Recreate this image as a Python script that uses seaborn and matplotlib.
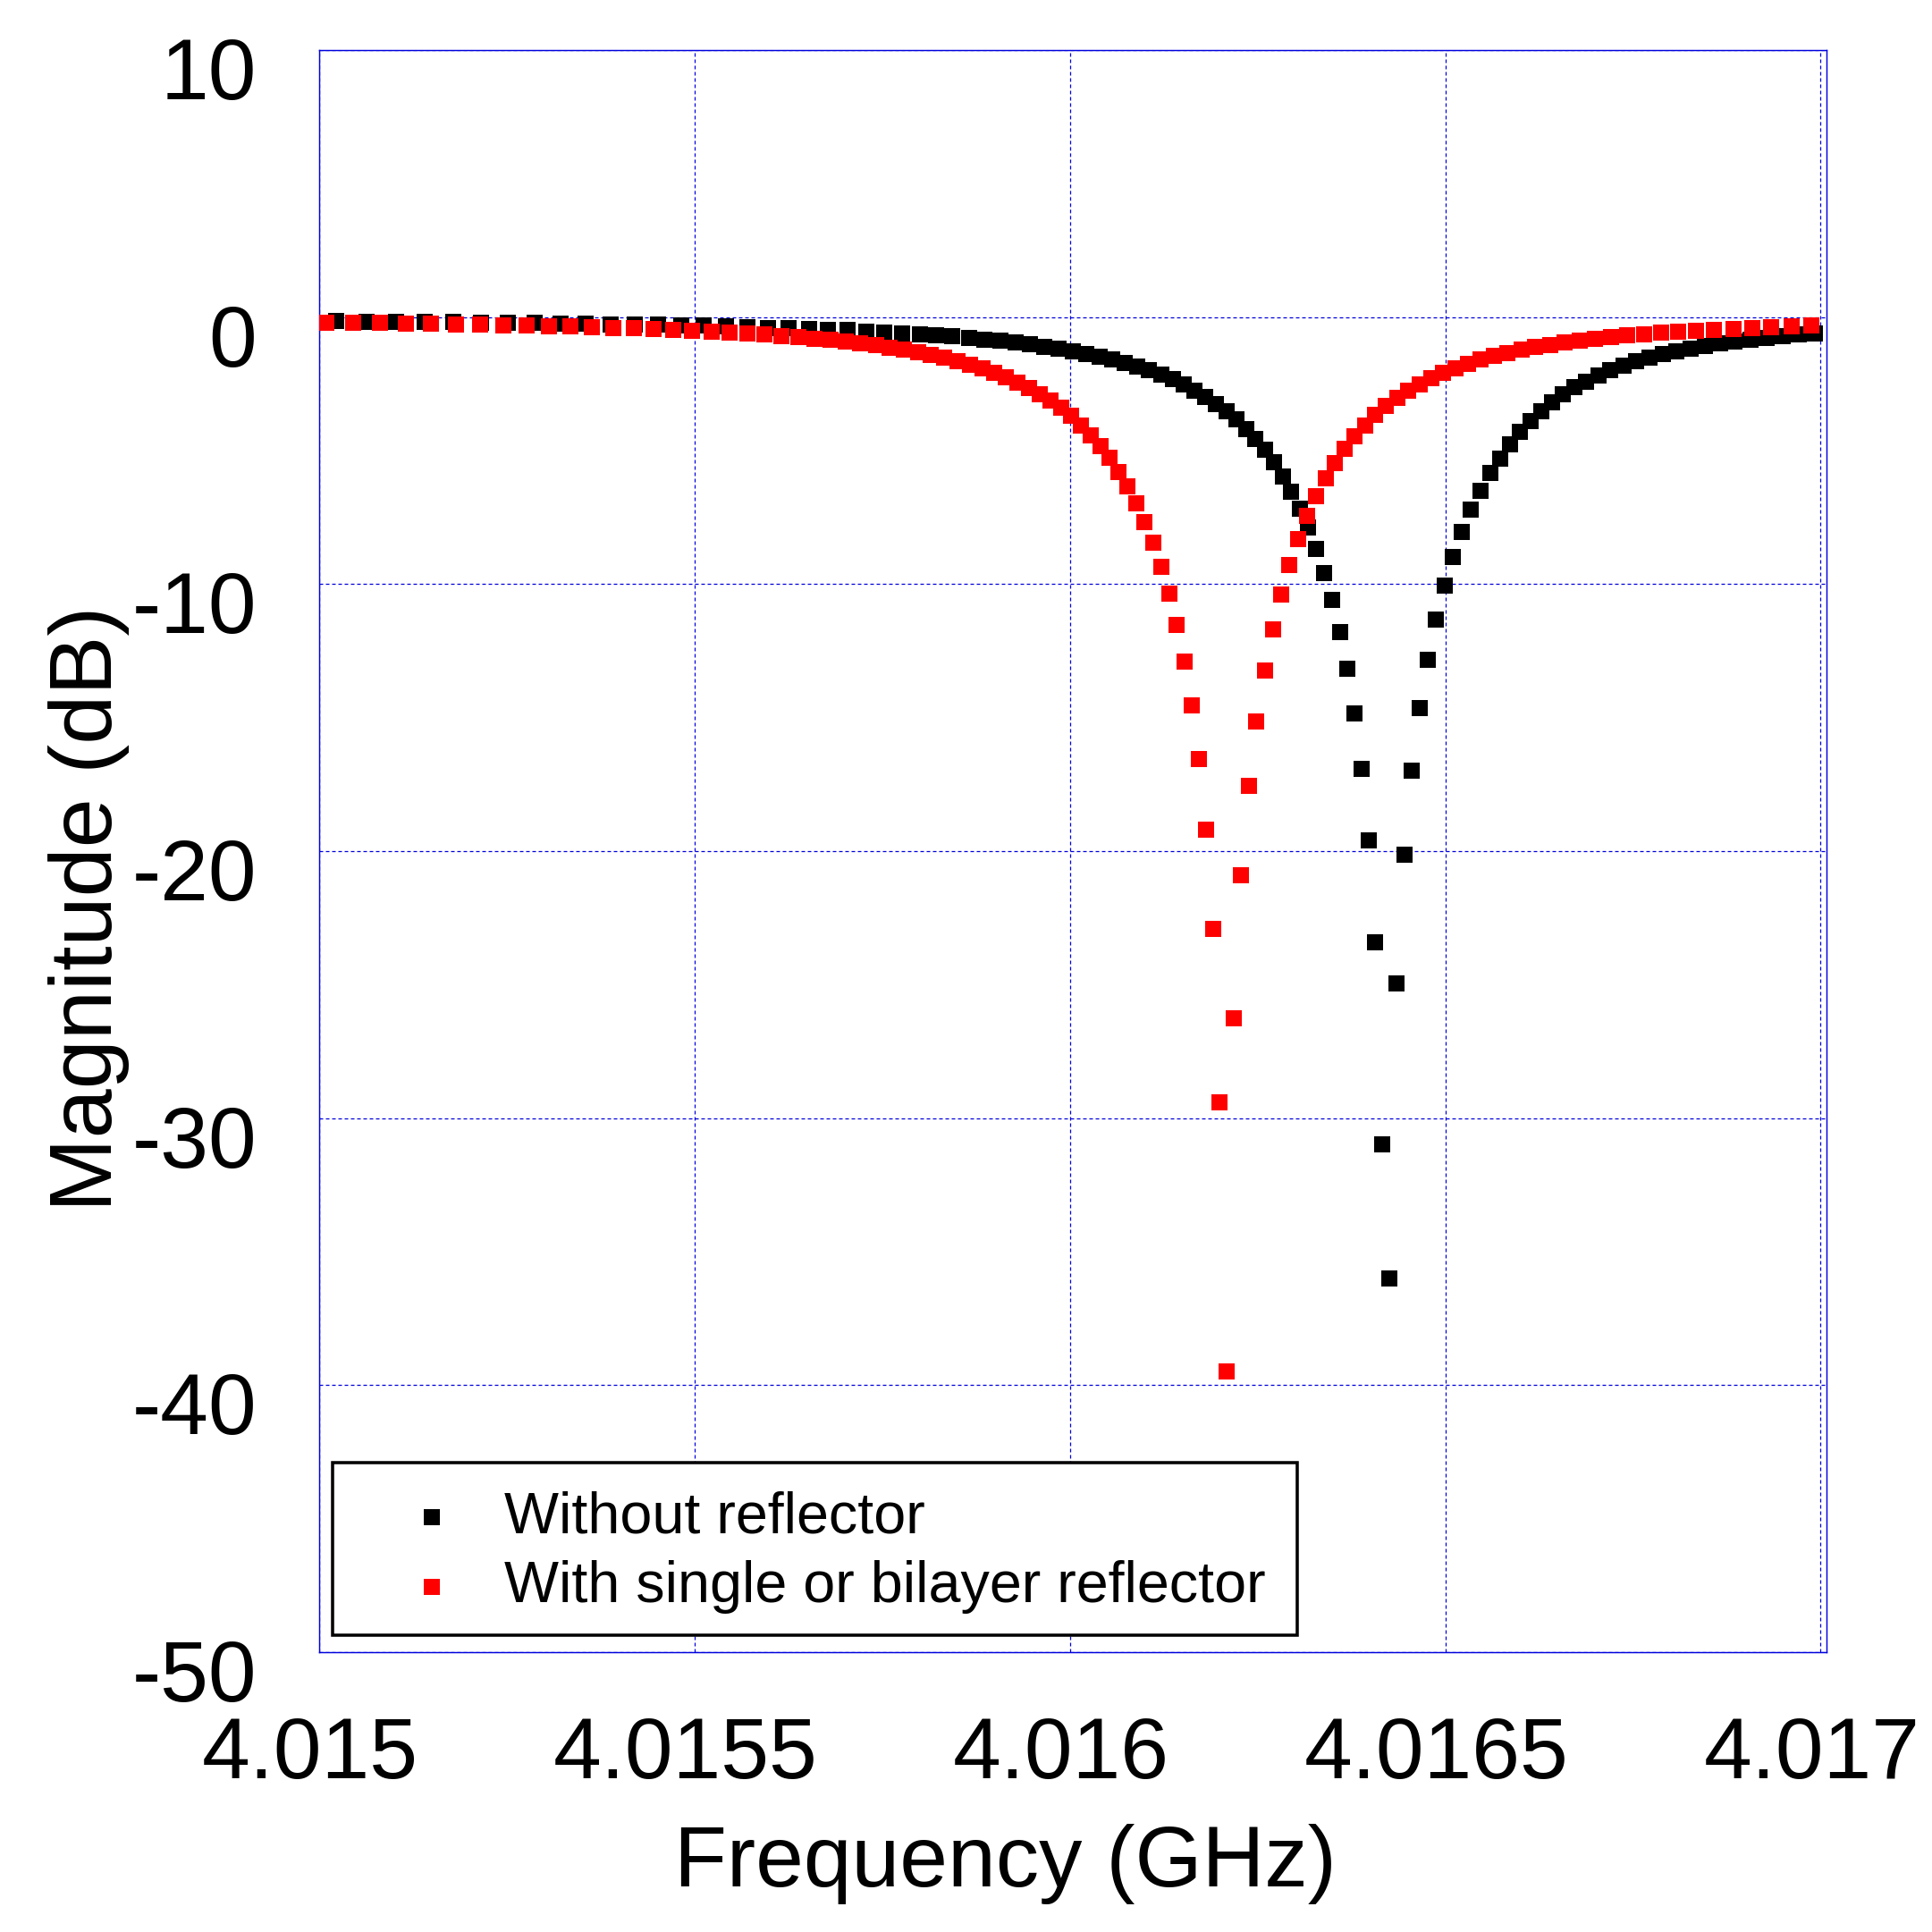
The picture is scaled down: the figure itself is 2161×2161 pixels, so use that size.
import numpy as np
import matplotlib
matplotlib.use("Agg")
import matplotlib.pyplot as plt
from matplotlib.patches import Rectangle
from matplotlib.transforms import ScaledTranslation
import seaborn as sns

# frequency (GHz) and magnitude (dB)
black_freq = [4.0150228, 4.0150633, 4.0151026, 4.0151409, 4.0151791, 4.0152157, 4.0152513, 4.0152869, 4.0153214, 4.0153549,
              4.0153883, 4.0154202, 4.0154515, 4.0154823, 4.0155121, 4.0155418, 4.0155700, 4.0155976, 4.0156252, 4.0156524,
              4.0156772, 4.0157033, 4.0157283, 4.0157522, 4.0157761, 4.0158000, 4.0158223, 4.0158437, 4.0158663, 4.0158865,
              4.0159079, 4.0159281, 4.0159472, 4.0159662, 4.0159853, 4.0160043, 4.0160221, 4.0160400, 4.0160567, 4.0160733,
              4.0160900, 4.0161054, 4.0161221, 4.0161376, 4.0161518, 4.0161661, 4.0161804, 4.0161947, 4.0162085, 4.0162223,
              4.0162345, 4.0162472, 4.0162604, 4.0162721, 4.0162844, 4.0162950, 4.0163065, 4.0163172, 4.0163279, 4.0163386,
              4.0163493, 4.0163600, 4.0163695, 4.0163791, 4.0163886, 4.0163981, 4.0164064, 4.0164159, 4.0164255, 4.0164350,
              4.0164457, 4.0164552, 4.0164659, 4.0164766, 4.0164873, 4.0164992, 4.0165096, 4.0165218, 4.0165340, 4.0165473,
              4.0165600, 4.0165728, 4.0165861, 4.0165993, 4.0166135, 4.0166277, 4.0166420, 4.0166563, 4.0166718, 4.0166872,
              4.0167039, 4.0167193, 4.0167372, 4.0167538, 4.0167717, 4.0167895, 4.0168074, 4.0168264, 4.0168455, 4.0168657,
              4.0168856, 4.0169061, 4.0169276, 4.0169490, 4.0169704, 4.0169930]
black_db = [-0.15, -0.19, -0.19, -0.19, -0.19, -0.22, -0.22, -0.22, -0.25, -0.25,
            -0.29, -0.29, -0.29, -0.32, -0.32, -0.35, -0.39, -0.42, -0.42, -0.45,
            -0.49, -0.49, -0.55, -0.59, -0.62, -0.65, -0.69, -0.72, -0.79, -0.86,
            -0.89, -0.96, -1.02, -1.12, -1.19, -1.29, -1.39, -1.49, -1.59, -1.73,
            -1.86, -1.99, -2.16, -2.33, -2.53, -2.76, -3.00, -3.27, -3.53, -3.83,
            -4.20, -4.57, -4.97, -5.44, -5.98, -6.55, -7.19, -7.89, -8.68, -9.59,
            -10.60, -11.79, -13.18, -14.84, -16.91, -19.59, -23.43, -30.98, -36.01, -24.97,
            -20.13, -16.97, -14.65, -12.84, -11.34, -10.06, -8.98, -8.05, -7.22, -6.49,
            -5.85, -5.29, -4.78, -4.31, -3.90, -3.53, -3.20, -2.90, -2.63, -2.43,
            -2.19, -1.99, -1.83, -1.66, -1.52, -1.39, -1.29, -1.19, -1.09, -0.99,
            -0.92, -0.86, -0.79, -0.72, -0.65, -0.62]

red_freq = [4.0150096, 4.0150457, 4.0150814, 4.0151159, 4.0151493, 4.0151823, 4.0152146, 4.0152455, 4.0152763, 4.0153060,
            4.0153347, 4.0153634, 4.0153916, 4.0154192, 4.0154452, 4.0154717, 4.0154967, 4.0155227, 4.0155466, 4.0155700,
            4.0155929, 4.0156152, 4.0156378, 4.0156593, 4.0156807, 4.0157009, 4.0157211, 4.0157414, 4.0157604, 4.0157794,
            4.0157985, 4.0158151, 4.0158330, 4.0158508, 4.0158675, 4.0158841, 4.0158996, 4.0159151, 4.0159305, 4.0159460,
            4.0159603, 4.0159745, 4.0159888, 4.0160019, 4.0160150, 4.0160281, 4.0160412, 4.0160531, 4.0160650, 4.0160769,
            4.0160888, 4.0160995, 4.0161114, 4.0161221, 4.0161328, 4.0161423, 4.0161530, 4.0161625, 4.0161720, 4.0161816,
            4.0161911, 4.0161994, 4.0162089, 4.0162184, 4.0162280, 4.0162387, 4.0162482, 4.0162601, 4.0162708, 4.0162815,
            4.0162922, 4.0163041, 4.0163160, 4.0163279, 4.0163412, 4.0163529, 4.0163662, 4.0163794, 4.0163938, 4.0164070,
            4.0164208, 4.0164357, 4.0164506, 4.0164660, 4.0164814, 4.0164968, 4.0165139, 4.0165303, 4.0165473, 4.0165648,
            4.0165829, 4.0166014, 4.0166194, 4.0166396, 4.0166587, 4.0166789, 4.0166991, 4.0167205, 4.0167419, 4.0167646,
            4.0167872, 4.0168098, 4.0168336, 4.0168574, 4.0168835, 4.0169085, 4.0169335, 4.0169609, 4.0169882]
red_db = [-0.22, -0.22, -0.22, -0.25, -0.25, -0.29, -0.29, -0.32, -0.32, -0.35,
          -0.35, -0.39, -0.42, -0.42, -0.45, -0.49, -0.52, -0.55, -0.59, -0.62,
          -0.65, -0.72, -0.75, -0.82, -0.86, -0.92, -0.99, -1.06, -1.16, -1.22,
          -1.32, -1.42, -1.52, -1.66, -1.79, -1.93, -2.09, -2.26, -2.46, -2.66,
          -2.90, -3.13, -3.40, -3.70, -4.07, -4.44, -4.84, -5.27, -5.81, -6.35,
          -6.98, -7.68, -8.45, -9.36, -10.36, -11.54, -12.90, -14.54, -16.55, -19.19,
          -22.92, -29.42, -39.49, -26.25, -20.90, -17.55, -15.14, -13.24, -11.71, -10.38,
          -9.30, -8.32, -7.44, -6.72, -6.04, -5.48, -4.94, -4.47, -4.07, -3.67,
          -3.33, -3.03, -2.76, -2.53, -2.29, -2.09, -1.93, -1.76, -1.59, -1.46,
          -1.36, -1.22, -1.12, -1.06, -0.96, -0.89, -0.82, -0.75, -0.69, -0.65,
          -0.59, -0.55, -0.52, -0.49, -0.45, -0.42, -0.39, -0.35, -0.32]

x_ticks = [4.015, 4.0155, 4.016, 4.0165, 4.017]
x_tick_labels = ["4.015", "4.0155", "4.016", "4.0165", "4.017"]
y_ticks = [10, 0, -10, -20, -30, -40, -50]
y_tick_labels = ["10", "0", "-10", "-20", "-30", "-40", "-50"]

sns.set_theme(style="white")
plt.rcParams["font.family"] = ["Liberation Sans", "DejaVu Sans"]
plt.rcParams["axes.unicode_minus"] = False
plt.rcParams["lines.scale_dashes"] = False
plt.rcParams["text.color"] = "black"
plt.rcParams["axes.labelcolor"] = "black"

DPI = 300
fig = plt.figure(figsize=(2161 / DPI, 2161 / DPI), dpi=DPI)
ax = fig.add_axes([0.1652, 0.1448, 0.7802, 0.8293])

blue = "#0000dd"
ms = 4.1  # square side in points

sns.scatterplot(x=black_freq, y=black_db, ax=ax, marker="s", s=ms ** 2, color="black",
                linewidth=0, label="Without reflector", legend=False, zorder=3)
sns.scatterplot(x=red_freq, y=red_db, ax=ax, marker="s", s=ms ** 2, color="#ff0000",
                linewidth=0, label="With single or bilayer reflector", legend=False, zorder=4)

ax.set_xlim(4.015, 4.0170079)
ax.set_ylim(-50, 10)
ax.set_xticks(x_ticks)
ax.set_xticklabels(x_tick_labels)
ax.set_yticks(y_ticks)
ax.set_yticklabels(y_tick_labels)

tick_fs = 23.2
ax.tick_params(axis="both", length=0, labelsize=tick_fs, colors="black")
ax.tick_params(axis="y", pad=16.8)
ax.tick_params(axis="x", pad=17.0)

ax.set_axisbelow(True)
ax.grid(True, color=blue, linestyle=(0, (0.96, 0.72)), linewidth=0.3)
for sp in ax.spines.values():
    sp.set_color(blue)
    sp.set_linewidth(0.35)
    sp.set_visible(True)

ax.set_xlabel("Frequency (GHz)", fontsize=tick_fs, color="black")
ax.set_ylabel("Magnitude (dB)", fontsize=23.8, color="black")
ax.xaxis.set_label_coords(0.455, -0.107)
ax.yaxis.set_label_coords(-0.126, 0.464)

# tick labels sit a bit off their ticks in the reference
for lab in ax.get_yticklabels():
    lab.set_transform(lab.get_transform() + ScaledTranslation(0, -20 / DPI, fig.dpi_scale_trans))
for lab in ax.get_xticklabels():
    lab.set_transform(lab.get_transform() + ScaledTranslation(-10 / DPI, 0, fig.dpi_scale_trans))

# legend entries without frame, the box is drawn separately
leg = ax.legend(loc="upper left", bbox_to_anchor=(0.0273, 0.101), borderaxespad=0,
                fontsize=15.5, frameon=False, borderpad=0, handlelength=2.49,
                handletextpad=0.0, labelspacing=0.27, scatterpoints=1, labelcolor="black")
box = Rectangle((0.0089, 0.0106), 0.640, 0.1077, transform=ax.transAxes, fill=True,
                facecolor="white", edgecolor="black", linewidth=0.85, zorder=5)
ax.add_patch(box)
leg.set_zorder(6)

fig.savefig("out.png", dpi=DPI, facecolor="white")
